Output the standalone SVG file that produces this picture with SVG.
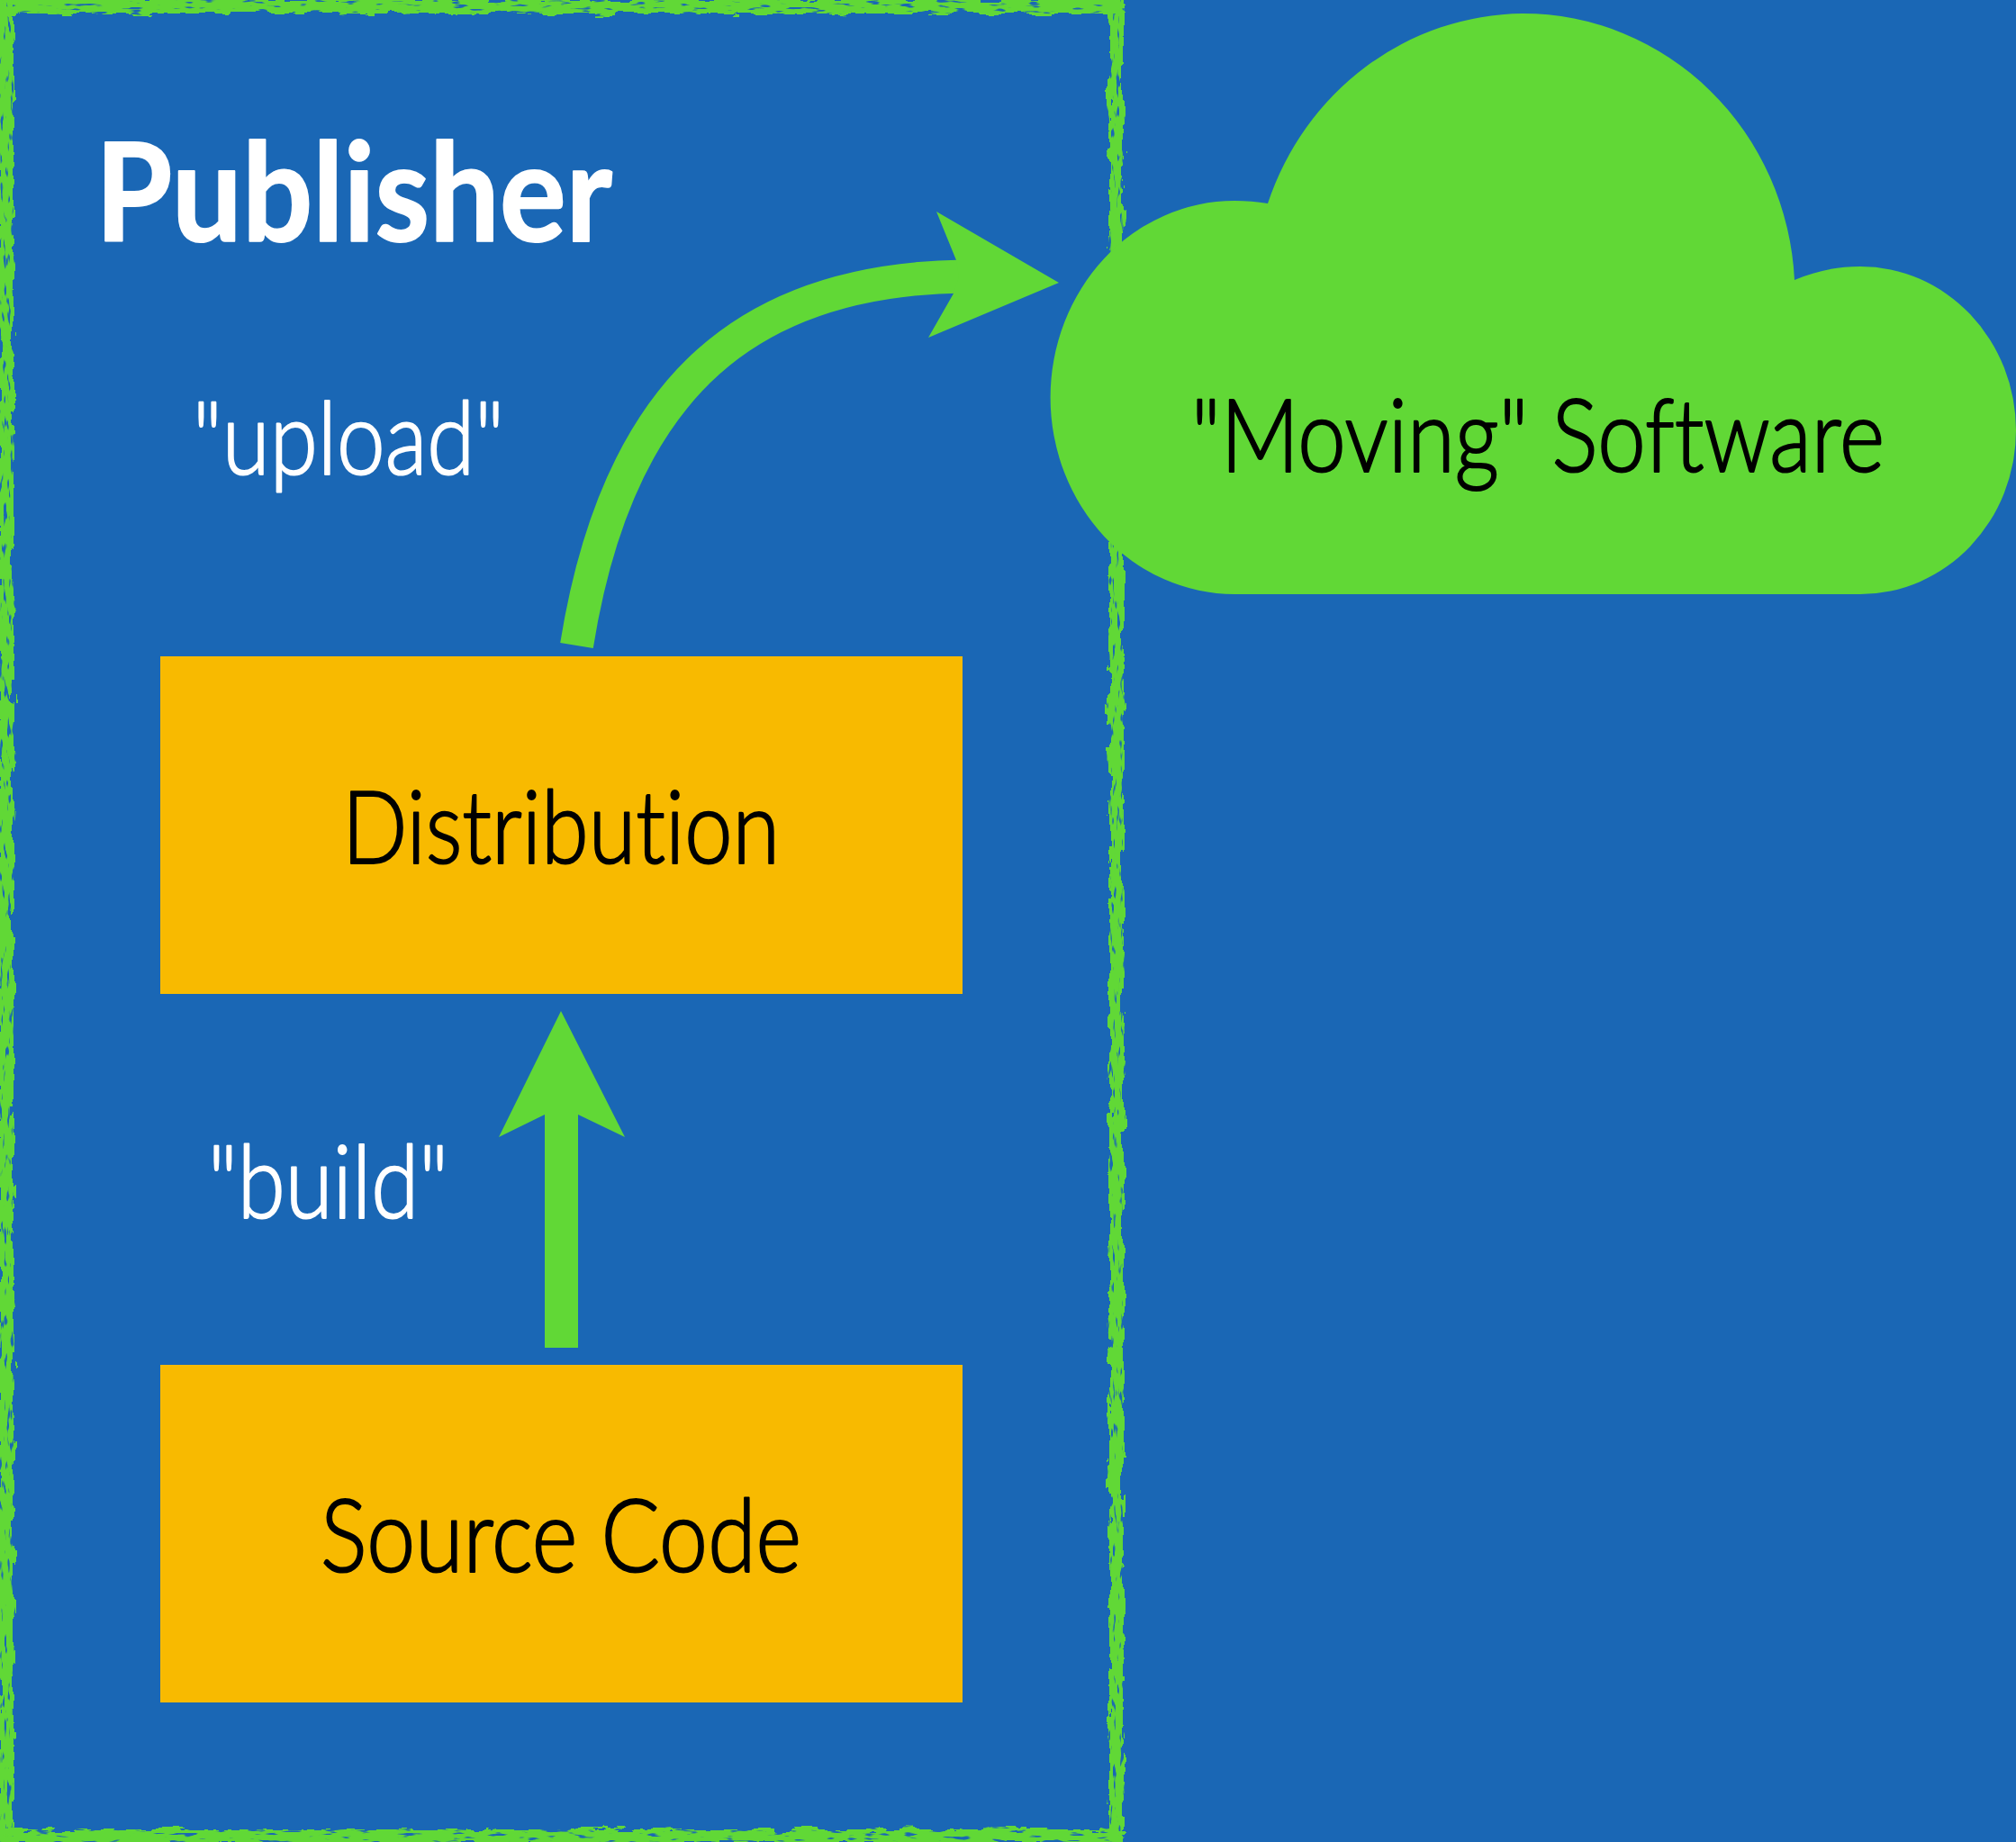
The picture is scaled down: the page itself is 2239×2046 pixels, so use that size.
<svg xmlns="http://www.w3.org/2000/svg" width="2239" height="2046" viewBox="0 0 2239 2046">
<style>
.t{font-family:"Lato","Noto Sans",sans-serif;font-size:112px;font-weight:300;stroke-width:2.2px;stroke-linejoin:round;font-variant-ligatures:none}
.w{fill:#fff;stroke:#fff}
.k{fill:#000;stroke:#000}
.h{font-size:151px;font-weight:700;stroke-width:2px}
.g{fill:#61d836}
.box{fill:#f8ba00}
.edge{stroke:#61d836;stroke-width:16px;fill:none;stroke-linecap:square}
</style>
<defs>
<filter id="roughV" filterUnits="userSpaceOnUse" x="-30" y="-30" width="2300" height="2110" color-interpolation-filters="sRGB">
<feTurbulence type="fractalNoise" baseFrequency="0.12 0.035" numOctaves="3" seed="7" result="n"/>
<feDisplacementMap in="SourceGraphic" in2="n" scale="14" xChannelSelector="R" yChannelSelector="G" result="d"/>
<feTurbulence type="fractalNoise" baseFrequency="0.25 0.05" numOctaves="2" seed="21"/>
<feColorMatrix type="matrix" values="0 0 0 0 0 0 0 0 0 0 0 0 0 0 0 9 0 0 0 -2.4"/>
<feComposite in="d" operator="in"/>
</filter>
<filter id="roughH" filterUnits="userSpaceOnUse" x="-30" y="-30" width="2300" height="2110" color-interpolation-filters="sRGB">
<feTurbulence type="fractalNoise" baseFrequency="0.035 0.12" numOctaves="3" seed="11" result="n"/>
<feDisplacementMap in="SourceGraphic" in2="n" scale="14" xChannelSelector="R" yChannelSelector="G" result="d"/>
<feTurbulence type="fractalNoise" baseFrequency="0.05 0.25" numOctaves="2" seed="33"/>
<feColorMatrix type="matrix" values="0 0 0 0 0 0 0 0 0 0 0 0 0 0 0 9 0 0 0 -2.4"/>
<feComposite in="d" operator="in"/>
</filter>
</defs>
<rect id="background" width="2239" height="2046" fill="#1a67b5"/>
<g id="publisher">
<path class="edge" filter="url(#roughV)" d="M7 0V2046M1240 0V2046"/>
<path class="edge" filter="url(#roughH)" d="M0 7H1240M0 2040H1240"/>
<text class="t w h" x="106" y="268" textLength="574" lengthAdjust="spacingAndGlyphs">Publisher</text>
</g>
<g id="cloud">
<path class="g" d="M1408 226A302 312 0 0 1 1691 15A302 312 0 0 1 1993 311C2017 301 2040 296 2066 296A173 182 0 0 1 2066 660L1371 660A204 218 0 0 1 1371 223C1384 223 1396 224 1408 226Z"/>
<text class="t k" x="1323" y="524" textLength="770" lengthAdjust="spacingAndGlyphs">"Moving" Software</text>
</g>
<g id="distribution">
<rect class="box" x="178" y="729" width="891" height="375"/>
<text class="t k" x="380" y="959" textLength="486" lengthAdjust="spacingAndGlyphs">Distribution</text>
</g>
<g id="source-code">
<rect class="box" x="178" y="1516" width="891" height="375"/>
<text class="t k" x="356" y="1746" textLength="534" lengthAdjust="spacingAndGlyphs">Source Code</text>
</g>
<g id="connectors">
<path class="g" d="M605 1497V1238L554 1263L623 1123L694 1263L642 1238V1497Z"/>
<path fill="none" stroke="#61d836" stroke-width="37" d="M640.500 717C688 420 840 310 1070 307"/>
<path class="g" d="M1176 314L1031 375L1059 326L1065 307L1062 289L1040 235Z"/>
</g>
<text class="t w" x="214" y="527" textLength="346" lengthAdjust="spacingAndGlyphs">"upload"</text>
<text class="t w" x="231" y="1353" textLength="267" lengthAdjust="spacingAndGlyphs">"build"</text>
</svg>
